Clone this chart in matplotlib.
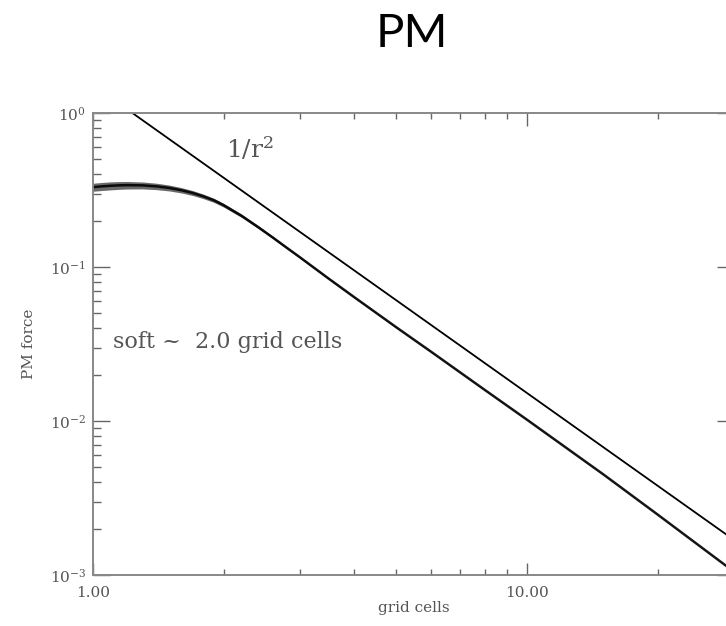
import numpy as np
import matplotlib
matplotlib.use("Agg")
import matplotlib.pyplot as plt
from matplotlib.ticker import FixedLocator, NullFormatter, FixedFormatter, LogLocator

# ---- data ----
r_pm = [1.0, 1.05, 1.1, 1.15, 1.2, 1.3, 1.4, 1.5, 1.6, 1.7, 1.8, 1.9, 2.0, 2.2, 2.4, 2.6,
        2.8, 3.0, 3.5, 4.0, 5.0, 6.0, 8.0, 10.0, 15.0, 20.0, 30.0]
f_pm = [0.330, 0.334, 0.337, 0.339, 0.340, 0.339, 0.334, 0.326, 0.315, 0.302, 0.287, 0.271,
        0.252, 0.215, 0.182, 0.155, 0.133, 0.1155, 0.0837, 0.0637, 0.0406, 0.0283, 0.0159,
        0.0102, 0.00450, 0.00247, 0.00105]
# scatter band (relative spread) around the PM force
spread = [0.06, 0.06, 0.06, 0.058, 0.056, 0.052, 0.048, 0.044, 0.04, 0.037, 0.034, 0.031,
          0.028, 0.024, 0.021, 0.018, 0.016, 0.014, 0.012, 0.01, 0.008, 0.007, 0.006,
          0.005, 0.004, 0.004, 0.004]
r_ref = [1.0, 30.0]
f_ref = [1.52, 1.52 / 900.0]

x_major = [1.0, 10.0]
x_major_labels = ["1.00", "10.00"]
x_minor = [2, 3, 4, 5, 6, 7, 8, 9, 20, 30]

title = "PM"
xlabel = "grid cells"
ylabel = "PM force"
note = "soft ~  2.0 grid cells"
ref_label = r"$\mathregular{1/r^2}$"

plt.rcParams["font.family"] = ["DejaVu Serif"]
plt.rcParams["mathtext.fontset"] = "dejavuserif"

fig = plt.figure(figsize=(7.26, 6.26), dpi=100)
ax = fig.add_axes([0.128, 0.0815, 0.883, 0.738])

gray = "#666666"
r = np.array(r_pm)
f = np.array(f_pm)
s = np.array(spread)
ax.fill_between(r, f * (1 - s), f * (1 + s), color="#444444", lw=0, alpha=0.8)
ax.plot(r, f, color="black", lw=1.8, alpha=0.9)
ax.plot(r_ref, f_ref, color="black", lw=1.3)

ax.set_xscale("log")
ax.set_yscale("log")
ax.set_xlim(1.0, 30.0)
ax.set_ylim(1e-3, 1.0)

ax.xaxis.set_major_locator(FixedLocator(x_major))
ax.xaxis.set_major_formatter(FixedFormatter(x_major_labels))
ax.xaxis.set_minor_locator(FixedLocator(x_minor))
ax.xaxis.set_minor_formatter(NullFormatter())
ax.yaxis.set_major_locator(LogLocator(base=10, numticks=10))
ax.yaxis.set_minor_locator(LogLocator(base=10, subs=np.arange(2, 10), numticks=10))
ax.yaxis.set_minor_formatter(NullFormatter())

ax.tick_params(which="both", direction="in", top=True, right=True, colors=gray,
               labelcolor="#555555", labelsize=11, width=1.0)
ax.tick_params(axis="y", which="major", length=12, pad=5)
ax.tick_params(axis="y", which="minor", length=6)
ax.tick_params(axis="x", which="major", length=9, pad=8)
ax.tick_params(axis="x", which="minor", length=4)
for sp in ax.spines.values():
    sp.set_color("#888888")
    sp.set_linewidth(1.4)

ax.set_xlabel(xlabel, color="#555555", fontsize=11, labelpad=1)
ax.set_ylabel(ylabel, color="#555555", fontsize=11, labelpad=10)

ax.text(0.032, 0.505, note, transform=ax.transAxes, fontsize=16, color="#555555",
        va="center", ha="left")
ax.text(0.207, 0.922, ref_label, transform=ax.transAxes, fontsize=18, color="#555555",
        va="center", ha="left")

fig.text(0.568, 0.945, title, fontsize=34, family=["Lato", "DejaVu Sans"],
         ha="center", va="center", color="black")

fig.savefig("out.png", dpi=100)
